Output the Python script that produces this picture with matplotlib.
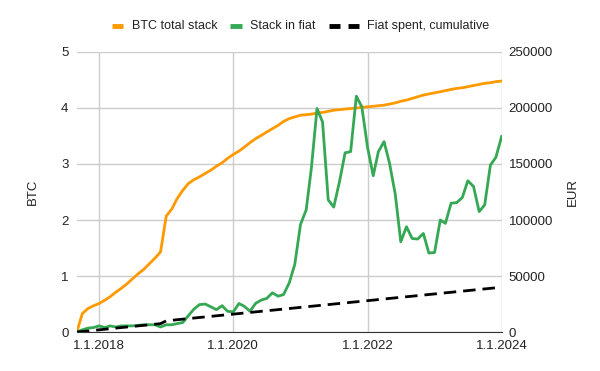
import numpy as np
import pandas as pd
import matplotlib
matplotlib.use("Agg")
import matplotlib.pyplot as plt
from matplotlib.lines import Line2D

plt.rcParams['font.family'] = ['Liberation Sans', 'DejaVu Sans']

# Monthly data, Sep 2017 .. Jan 2024
months = pd.date_range("2017-09-01", "2024-01-01", freq="MS")

btc_total = [0.00, 0.33, 0.42, 0.47, 0.51, 0.57, 0.63, 0.71, 0.78, 0.86,
             0.95, 1.04, 1.12, 1.22, 1.32, 1.43, 2.07, 2.20, 2.38, 2.53,
             2.65, 2.72, 2.77, 2.83, 2.89, 2.96, 3.02, 3.10, 3.17, 3.23,
             3.30, 3.38, 3.45, 3.51, 3.57, 3.63, 3.69, 3.76, 3.81, 3.84,
             3.87, 3.88, 3.89, 3.91, 3.92, 3.94, 3.96, 3.97, 3.98, 3.99,
             4.00, 4.01, 4.02, 4.03, 4.04, 4.05, 4.07, 4.09, 4.12, 4.14,
             4.17, 4.20, 4.23, 4.25, 4.27, 4.29, 4.31, 4.33, 4.35, 4.36,
             4.38, 4.40, 4.42, 4.44, 4.45, 4.47, 4.48]

stack_eur = [0, 2000, 3500, 4000, 5500, 4000, 5500, 4500, 5500, 5500,
             5500, 6000, 6500, 6500, 6500, 4500, 6500, 6500, 7500, 8500,
             14500, 20500, 24500, 25000, 22500, 20000, 23500, 18500, 18000, 25500,
             23000, 18500, 25500, 28500, 30000, 35000, 32000, 33500, 44000, 60500,
             96000, 109000, 146000, 199500, 187500, 118000, 111500, 134000, 160000, 161000,
             210500, 201000, 165000, 139500, 161000, 170000, 150500, 123000, 80500, 94000,
             83500, 83000, 88000, 70500, 71000, 100000, 97000, 115000, 115500, 120000,
             135000, 130000, 107500, 113500, 149000, 156000, 174500]

fiat_spent = [0, 500, 1000, 1500, 2000, 2500, 3000, 3500, 4000, 4500,
              5000, 5500, 6000, 6500, 7000, 7500, 10000, 10500, 11000, 11500,
              12000, 12500, 13000, 13500, 14000, 14500, 15000, 15500, 16000, 16500,
              17000, 17500, 18000, 18500, 19000, 19500, 20000, 20500, 21000, 21500,
              22000, 22500, 23000, 23500, 24000, 24500, 25000, 25500, 26000, 26500,
              27000, 27500, 28000, 28500, 29000, 29500, 30000, 30500, 31000, 31500,
              32000, 32500, 33000, 33500, 34000, 34500, 35000, 35500, 36000, 36500,
              37000, 37500, 38000, 38500, 39000, 39500, 40000]

series_names = ["BTC total stack", "Stack in fiat", "Fiat spent, cumulative"]

orange = "#ff9900"
green = "#34a853"
txt = "#222222"

W, H = 600, 371
fig = plt.figure(figsize=(6, 3.71), dpi=100)
ax = fig.add_axes([0.128, 0.105, 0.708, 0.755])
ax2 = ax.twinx()

ax.plot(months, btc_total, color=orange, lw=2, zorder=3)
ax2.plot(months, stack_eur, color=green, lw=2, zorder=3)
ax2.plot(months, fiat_spent, color="black", lw=2, ls=(0, (4.5, 2.5)), zorder=3)

ax.set_xlim(pd.Timestamp("2017-09-01"), pd.Timestamp("2024-01-01"))
ax.set_ylim(0, 5)
ax2.set_ylim(0, 250000)
ax.set_yticks(range(0, 6))
ax2.set_yticks(range(0, 250001, 50000))

ticks = [pd.Timestamp(f"{y}-01-01") for y in (2018, 2020, 2022, 2024)]
ax.set_xticks(ticks)
ax.set_xticklabels([f"1.1.{t.year}" for t in ticks])

ax.grid(True, color="#cccccc", lw=1)
for a in (ax, ax2):
    for s in ("top", "right", "left"):
        a.spines[s].set_visible(False)
    a.tick_params(length=0, labelsize=9.5, colors=txt)
ax2.spines["bottom"].set_visible(False)
ax.spines["bottom"].set_color("#333333")
ax.spines["bottom"].set_zorder(4)
ax.tick_params(axis="x", pad=6)
ax.tick_params(axis="y", pad=6)
ax2.tick_params(axis="y", pad=5)

ax.set_ylabel("BTC", fontsize=9.5, labelpad=16, color=txt)
ax2.set_ylabel("EUR", fontsize=9.5, labelpad=10, color=txt)

# legend drawn by hand (Google-Sheets style handles)
ly = 1 - 26 / H
def hline(x0, x1, color):
    fig.add_artist(Line2D([x0 / W, x1 / W], [ly, ly], color=color, lw=3.5,
                          solid_capstyle="butt", transform=fig.transFigure))

hline(112, 123, orange)
fig.text(132 / W, ly, series_names[0], ha="left", va="center", fontsize=9, color=txt)
hline(230, 242, green)
fig.text(250 / W, ly, series_names[1], ha="left", va="center", fontsize=9, color=txt)
hline(329, 340, "black")
hline(348, 359, "black")
fig.text(367 / W, ly, series_names[2], ha="left", va="center", fontsize=9, color=txt)

fig.savefig("out.png", dpi=100)
